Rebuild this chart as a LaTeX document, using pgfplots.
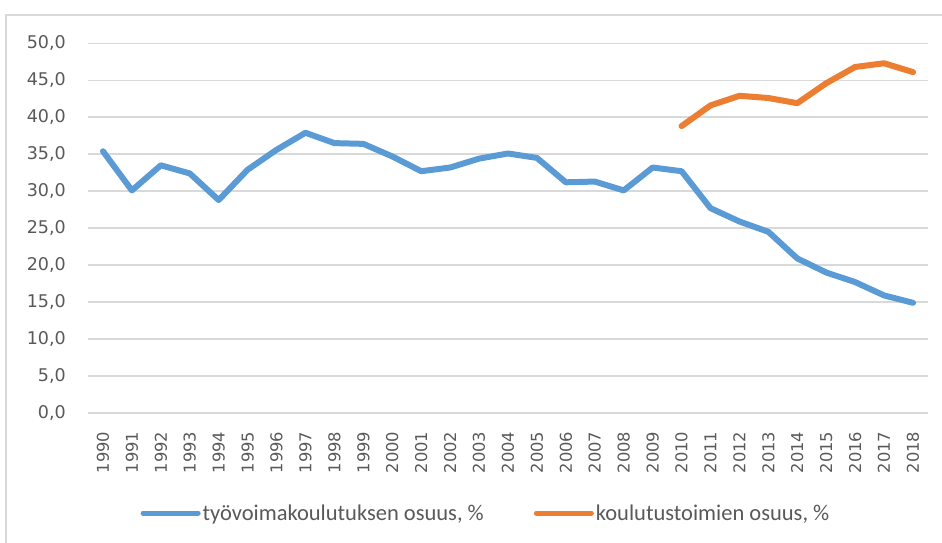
\documentclass[border=0pt]{standalone}
\usepackage{pgfplots}
\pgfplotsset{compat=1.18}
\usepackage{fontspec}
\setmainfont{Carlito}
\newfontfamily\dejavu{DejaVu Sans}
\definecolor{sblue}{HTML}{5B9BD5}
\definecolor{sorange}{HTML}{ED7D31}
\definecolor{gridc}{HTML}{D9D9D9}
\definecolor{txt}{HTML}{595959}
\begin{document}
\begin{tikzpicture}
\useasboundingbox (0pt,0pt) rectangle (942pt,543pt);
\draw[gridc, line width=1.5pt] (6pt,0pt) -- (6pt,528pt) -- (942pt,528pt);
\begin{axis}[
  at={(88.5pt,130pt)}, anchor=south west,
  scale only axis, width=839pt, height=369.7pt,
  xmin=1989.5, xmax=2018.5, ymin=0, ymax=50,
  xtick={1990,...,2018}, ytick={0,5,...,50},
  major tick length=0pt,
  axis line style={draw=none},
  ymajorgrids, grid style={gridc, line width=1.5pt},
  /pgf/number format/assume math mode=true,
  yticklabel style={font=\dejavu\fontsize{17.5}{20}\selectfont, text=txt, anchor=east, inner sep=0pt,
    /pgf/number format/.cd, fixed, fixed zerofill, precision=1, use comma},
  yticklabel shift=22.5pt,
  xticklabel style={font=\dejavu\fontsize{16.3}{19}\selectfont, text=txt, rotate=90, anchor=east, inner sep=0pt,
    /pgf/number format/.cd, set thousands separator={}},
  xticklabel shift=18.5pt,
  legend columns=2,
  legend style={draw=none, fill=none, at={(0.4738,-0.2705)}, anchor=center,
    font=\fontsize{22.5}{26}\selectfont, text=txt,
    /tikz/every even column/.append style={column sep=48pt}},
  legend image code/.code={\draw[#1, line width=5pt, line cap=round] (0pt,0pt) -- (55pt,0pt);},
  every axis plot/.append style={line width=6pt, line join=round, line cap=round},
]
\addplot[sblue] coordinates {
(1990,35.4) (1991,30.1) (1992,33.5) (1993,32.4) (1994,28.8) (1995,32.9)
(1996,35.6) (1997,37.9) (1998,36.5) (1999,36.4) (2000,34.7) (2001,32.7)
(2002,33.2) (2003,34.4) (2004,35.1) (2005,34.5) (2006,31.2) (2007,31.3)
(2008,30.1) (2009,33.2) (2010,32.7) (2011,27.7) (2012,25.9) (2013,24.5)
(2014,20.9) (2015,19.0) (2016,17.7) (2017,15.9) (2018,14.9)};
\addlegendentry{työvoimakoulutuksen osuus, \%}
\addplot[sorange] coordinates {
(2010,38.8) (2011,41.6) (2012,42.9) (2013,42.6) (2014,41.9) (2015,44.6)
(2016,46.8) (2017,47.3) (2018,46.1)};
\addlegendentry{koulutustoimien osuus, \%}
\end{axis}
\end{tikzpicture}
\end{document}
